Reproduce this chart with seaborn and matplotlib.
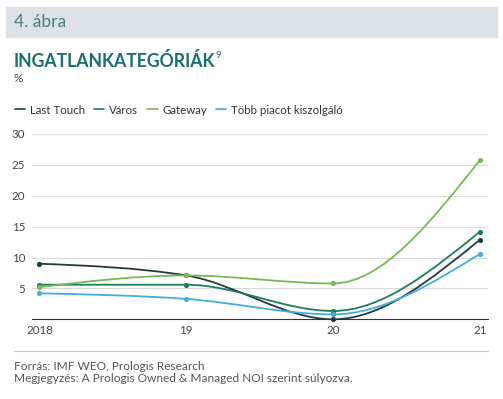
import numpy as np
import matplotlib
matplotlib.use("Agg")
import matplotlib.pyplot as plt
import seaborn as sns
from matplotlib.path import Path
from matplotlib.patches import PathPatch, Rectangle
from matplotlib.lines import Line2D

# data
years = ["2018", "19", "20", "21"]
last_touch = [9.0, 7.1, 0.0, 12.9]
varos = [5.6, 5.6, 1.35, 14.2]
gateway = [5.2, 7.1, 5.8, 25.8]
tobb_piac = [4.2, 3.3, 0.8, 10.6]

series_names = ["Last Touch", "Város", "Gateway", "Több piacot kiszolgáló"]
series_vals = [last_touch, varos, gateway, tobb_piac]
colors = ["#1f3d3f", "#1c7d5b", "#7bb853", "#45ace0"]
yticks = [5, 10, 15, 20, 25, 30]

sns.set_theme(style="white")
plt.rcParams["font.family"] = ["Lato", "DejaVu Sans"]


def monotone_path(x, y):
    # monotone cubic (d3 curveMonotoneX style) as bezier segments
    x = np.asarray(x, float)
    y = np.asarray(y, float)
    n = len(x)
    t = np.zeros(n)
    for i in range(1, n - 1):
        h0, h1 = x[i] - x[i - 1], x[i + 1] - x[i]
        s0, s1 = (y[i] - y[i - 1]) / h0, (y[i + 1] - y[i]) / h1
        p = (s0 * h1 + s1 * h0) / (h0 + h1)
        t[i] = (np.sign(s0) + np.sign(s1)) * min(abs(s0), abs(s1), 0.5 * abs(p))
    t[0] = (3 * (y[1] - y[0]) / (x[1] - x[0]) - t[1]) / 2
    t[-1] = (3 * (y[-1] - y[-2]) / (x[-1] - x[-2]) - t[-2]) / 2
    verts = [(x[0], y[0])]
    codes = [Path.MOVETO]
    for i in range(n - 1):
        dx = (x[i + 1] - x[i]) / 3
        verts += [(x[i] + dx, y[i] + dx * t[i]),
                  (x[i + 1] - dx, y[i + 1] - dx * t[i + 1]),
                  (x[i + 1], y[i + 1])]
        codes += [Path.CURVE4] * 3
    return Path(verts, codes)


fig = plt.figure(figsize=(5.03, 3.99), dpi=100)
W, H = 503, 399

# header band
fig.patches.append(Rectangle((6 / W, 1 - 37 / H), 491 / W, 30 / H,
                             transform=fig.transFigure, color="#dde2e7", zorder=0))
fig.text(14 / W, 1 - 22 / H, "4. ábra", fontsize=12.5, color="#4f7c80", va="center")
title = fig.text(14 / W, 1 - 61 / H, "INGATLANKATEGÓRIÁK", fontsize=12.7, fontweight="bold",
                 color="#1a6f6c", va="center")
fig.canvas.draw()
tb = title.get_window_extent()
fig.text((tb.x1 + 0.3) / W, 1 - 55 / H, "9", fontsize=7, color="#1a6f6c", va="center")
fig.text(14 / W, 1 - 79 / H, "%", fontsize=8.5, color="#444444", va="center")

ax = fig.add_axes([32 / W, (H - 319.3) / H, 456 / W, 185.3 / H])
xs = np.arange(len(years))
for name, vals, c in zip(series_names, series_vals, colors):
    ax.add_patch(PathPatch(monotone_path(xs, vals), facecolor="none", edgecolor=c,
                           lw=1.3, zorder=3, clip_on=False))
    sns.scatterplot(x=xs, y=vals, color=c, s=14, linewidth=0, ax=ax, zorder=4,
                    clip_on=False)

ax.set_xlim(-0.05, 3.054)
ax.set_ylim(0, 30)
ax.set_xticks(xs)
ax.set_xticklabels(years)
ax.set_yticks(yticks)
ax.tick_params(axis="both", length=0, labelsize=8.3, labelcolor="#444444")
ax.tick_params(axis="y", pad=5)
ax.tick_params(axis="x", pad=4)
ax.grid(axis="y", color="#d9d9d9", lw=0.8)
for s in ["top", "right", "left"]:
    ax.spines[s].set_visible(False)
ax.spines["bottom"].set_color("#333333")
ax.spines["bottom"].set_linewidth(0.8)

handles = [Line2D([], [], color=c, lw=1.2) for c in colors]
fig.legend(handles, series_names, loc="center left", bbox_to_anchor=(10 / W, 1 - 110 / H),
           ncol=4, frameon=False, fontsize=8.3, handlelength=0.9, handletextpad=0.4,
           columnspacing=0.8, labelcolor="#333333", borderaxespad=0)

# footer
fig.add_artist(Line2D([14 / W, 488 / W], [1 - 351 / H, 1 - 351 / H],
                      transform=fig.transFigure, color="#c8c8c8", lw=0.8))
fig.text(14 / W, 1 - 366 / H, "Forrás: IMF WEO, Prologis Research", fontsize=8.6,
         color="#555555", va="center")
fig.text(14 / W, 1 - 379 / H, "Megjegyzés: A Prologis Owned & Managed NOI szerint súlyozva.",
         fontsize=8.6, color="#555555", va="center")

fig.savefig("out.png", dpi=100, facecolor="white")
